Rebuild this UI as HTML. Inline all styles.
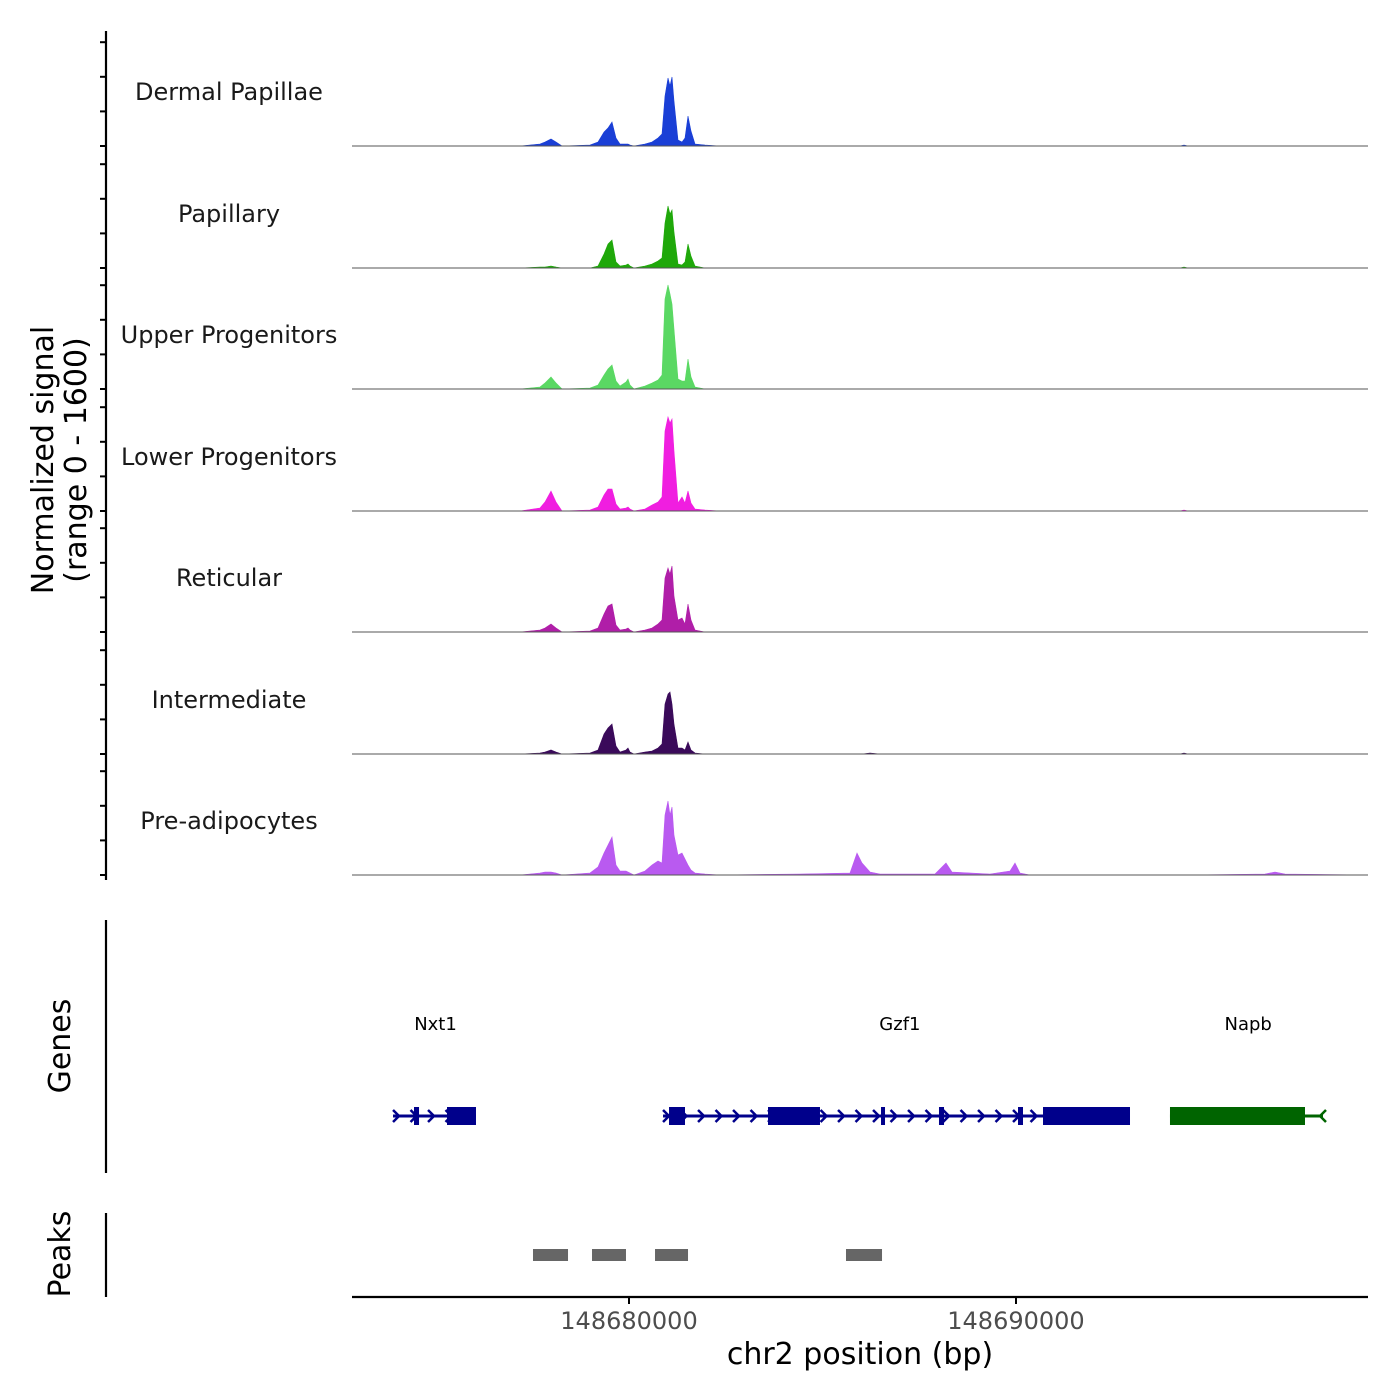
<!DOCTYPE html>
<html><head><meta charset="utf-8"><style>
html,body{margin:0;padding:0;background:#fff;width:1400px;height:1400px;overflow:hidden}
text{font-family:"DejaVu Sans","Liberation Sans",sans-serif}
</style></head><body>
<svg id="chart" width="1400" height="1400" xmlns="http://www.w3.org/2000/svg"></svg>
<script>
const trackNames = ["Dermal Papillae","Papillary","Upper Progenitors","Lower Progenitors","Reticular","Intermediate","Pre-adipocytes"];
const trackColors = ["#1a3fd6","#1fa80a","#5ad863","#f01ee0","#b01ea8","#3a0a5a","#b95af0"];
const positionOffsets = [-7158,-2817,-2300,-2171,-2016,-1886,-1731,-1008,-801,-646,-543,-439,-336,-233,-78,-26,26,129,413,594,749,853,930,1008,1059,1111,1163,1266,1370,1447,1525,1602,1705,1964,2351,4419,5711,5892,6021,6227,6486,7907,8036,8191,8346,9328,9845,9974,10103,10362,14238,14341,14445,16434,16693,16951,19096];
const sigDP =  [0,0,29,58,101,58,0,14,58,202,260,347,116,29,29,29,14,0,29,58,116,173,723,983,867,997,650,87,58,116,434,217,29,14,0,0,0,0,0,0,0,0,0,0,0,0,0,0,0,0,0,14,0,0,0,0,0];
const sigPap = [0,0,14,14,29,14,0,0,29,202,347,405,87,29,43,58,29,0,29,58,101,145,650,896,780,838,520,58,43,87,347,173,29,0,0,0,0,0,0,0,0,0,0,0,0,0,0,0,0,0,0,14,0,0,0,0,0];
const sigUp =  [0,0,29,87,173,87,0,14,58,202,289,347,116,43,101,145,58,0,43,87,130,202,1300,1503,1373,1228,867,145,116,116,434,173,29,0,0,0,0,0,0,0,0,0,0,0,0,0,0,0,0,0,0,0,0,0,0,0,0];
const sigLow = [0,0,43,130,289,130,0,14,58,231,318,318,101,29,43,58,29,0,29,87,130,202,1156,1358,1272,1329,867,116,202,116,289,116,29,14,0,0,0,0,0,0,0,0,0,0,0,0,0,0,0,0,0,14,0,0,0,0,0];
const sigRet = [0,0,29,58,116,58,0,14,58,260,376,405,101,29,43,58,29,0,29,58,116,173,780,925,838,954,520,173,202,116,405,173,29,0,0,0,0,0,0,0,0,0,0,0,0,0,0,0,0,0,0,0,0,0,0,0,0];
const sigInt = [0,0,14,29,58,29,0,14,58,289,376,434,116,29,58,87,29,0,29,43,87,145,723,867,896,723,434,87,87,58,173,58,14,0,0,0,0,0,0,14,0,0,0,0,0,0,0,0,0,0,0,14,0,0,0,0,0];
const sigPre = [0,0,29,43,43,29,0,29,116,318,434,549,145,58,58,43,29,0,58,145,202,173,867,1069,867,983,578,289,318,231,145,72,29,14,0,14,29,318,173,43,14,14,87,173,43,14,58,173,29,0,0,0,0,14,43,14,0];
const trackSignals = [sigDP,sigPap,sigUp,sigLow,sigRet,sigInt,sigPre];
const xTickValues = [148680000,148690000];
const xTickLabels = ["148680000","148690000"];
const yTickValues = [0,500,1000,1500];
const geneNames = ["Nxt1","Gzf1","Napb"];
const geneStarts = [-6098,879,13979];
const geneEnds = [-3954,12946,17933];
const geneStrands = ["+","+","-"];
const geneLabelPos = [-5000,7000,16000];
const geneColors = ["#00008b","#00008b","#006400"];
const exonGene = [0,0,1,1,1,1,1,1,2];
const exonStarts = [-5556,-4703,1034,3592,6512,8010,10052,10698,13979];
const exonEnds = [-5426,-3954,1447,4935,6615,8140,10181,12946,17468];
const peakStarts = [-2481,-956,672,5607];
const peakEnds = [-1576,-78,1525,6538];

const BASE = 148680000;
const X0=352, X1=1368, BP0=BASE-7158, BP1=BASE+19096;
const xs = bp => X0 + (bp-BP0)/(BP1-BP0)*(X1-X0);
const baselines = [146,268,389,511,632,754,875];
const yScale = v => v*0.0692;
const svg = document.getElementById('chart');
const NS="http://www.w3.org/2000/svg";
function mk(tag, attrs, parent){const e=document.createElementNS(NS,tag);for(const k in attrs)e.setAttribute(k,attrs[k]);(parent||svg).appendChild(e);return e;}

trackNames.forEach((name,i)=>{
  const b=baselines[i];
  const g=mk('g',{});
  
  
  let d='M'+xs(BASE+positionOffsets[0])+','+b;
  positionOffsets.forEach((o,j)=>{d+=' L'+xs(BASE+o).toFixed(1)+','+(b-yScale(trackSignals[i][j])).toFixed(1);});
  d+=' L'+xs(BASE+positionOffsets[positionOffsets.length-1])+','+b+' Z';
  const p=mk('path',{d:d,fill:trackColors[i],stroke:trackColors[i],'stroke-width':0.6},g);
  
  
  const l=mk('line',{x1:X0,x2:X1,y1:b,y2:b,stroke:'#555','stroke-width':1},g);
  
  
  const t=mk('text',{x:229,y:b-46,'text-anchor':'middle','font-size':24,fill:'#1a1a1a'},g);
  t.textContent=name;
  
  
  yTickValues.forEach(v=>{
    const tk=mk('line',{x1:100,x2:106,y1:b-yScale(v),y2:b-yScale(v),stroke:'#000','stroke-width':2},g);
    
    
  });
});
[[31,880,'signal-y-axis'],[920,1173,'genes-y-axis'],[1213,1297,'peaks-y-axis']].forEach(a=>{
  const l=mk('line',{x1:106,x2:106,y1:a[0],y2:a[1],stroke:'#000','stroke-width':2.2});
  
  
});
function rtext(x,y,s,name){const t=mk('text',{x:0,y:0,transform:`translate(${x},${y}) rotate(-90)`,'text-anchor':'middle','font-size':30,fill:'#000'});t.textContent=s;}
rtext(53,460,'Normalized signal','y-axis-title');
rtext(86,460,'(range 0 - 1600)','y-axis-range');
rtext(70,1046,'Genes','genes-title');
rtext(70,1254,'Peaks','peaks-title');

const gy=1116;
geneNames.forEach((n,i)=>{
  const g=mk('g',{});
  
  
  const c=geneColors[i];
  const x1=xs(BASE+geneStarts[i]), x2=xs(BASE+geneEnds[i]);
  mk('line',{x1:x1,x2:x2,y1:gy,y2:gy,stroke:c,'stroke-width':3},g);
  const dir=geneStrands[i]==='+'?1:-1;
  const ax=[];
  if(dir>0){for(let x=x1+4;x<x2-4;x+=17.5)ax.push(x);} else {ax.push(x2-1);}
  ax.forEach(x=>{mk('polyline',{points:`${x-4*dir},${gy-6} ${x+2*dir},${gy} ${x-4*dir},${gy+6}`,fill:'none',stroke:c,'stroke-width':2.5},g);});
  const t=mk('text',{x:xs(BASE+geneLabelPos[i]),y:1030,'text-anchor':'middle','font-size':18,fill:'#000'},g);
  t.textContent=n;
  
  
});
exonStarts.forEach((s,i)=>{
  const x1=xs(BASE+s), x2=xs(BASE+exonEnds[i]);
  const r=mk('rect',{x:x1,y:gy-9,width:Math.max(x2-x1,4),height:18,fill:geneColors[exonGene[i]]});
  
  
});
peakStarts.forEach((s,i)=>{
  const x1=xs(BASE+s), x2=xs(BASE+peakEnds[i]);
  const r=mk('rect',{x:x1,y:1249,width:x2-x1,height:12,fill:'#666'});
  
  
});
const xa=mk('line',{x1:X0,x2:X1,y1:1297,y2:1297,stroke:'#000','stroke-width':2.2});


xTickValues.forEach((v,i)=>{
  const x=xs(v);
  const tk=mk('line',{x1:x,x2:x,y1:1297,y2:1304,stroke:'#000','stroke-width':2});
  
  
  const t=mk('text',{x:x,y:1329,'text-anchor':'middle','font-size':24,fill:'#4d4d4d'});
  t.textContent=xTickLabels[i];
  
  
});
const xt=mk('text',{x:860,y:1364,'text-anchor':'middle','font-size':30,fill:'#000'});
xt.textContent='chr2 position (bp)';


</script>
</body></html>
